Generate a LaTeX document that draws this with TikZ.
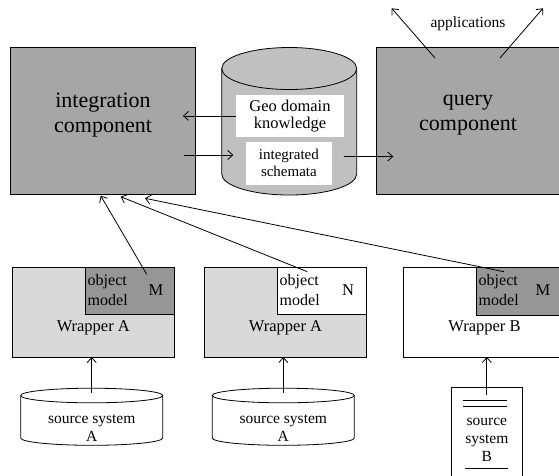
\documentclass[tikz,border=0pt]{standalone}
\usepackage{fontspec}
\setmainfont{Liberation Serif}
\usetikzlibrary{arrows.meta,calc}

\definecolor{compgray}{RGB}{166,166,166}
\definecolor{cylgray}{RGB}{192,192,192}
\definecolor{wrapgray}{RGB}{217,217,217}
\definecolor{objgray}{RGB}{150,150,150}

\tikzset{
  box/.style={draw, line width=0.8pt, inner sep=0pt, outer sep=0pt, anchor=north west},
  whitebox/.style={fill=white, inner sep=0pt, outer sep=0pt},
  arr/.style={line width=0.8pt, -{Straight Barb[length=5pt,width=9pt]}},
  ln/.style={line width=0.8pt},
  bigtxt/.style={font=\fontsize{22}{25}\selectfont, align=center},
  midtxt/.style={font=\fontsize{16.5}{17}\selectfont, align=center},
  smalltxt/.style={font=\fontsize{15}{17}\selectfont, align=center},
  objtxt/.style={font=\fontsize{16}{20}\selectfont, align=left, anchor=west, inner sep=0pt},
  srctxt/.style={font=\fontsize{15.5}{18}\selectfont, align=center},
}

\begin{document}
\begin{tikzpicture}[x=1pt, y=-1pt]
\useasboundingbox (0,0) rectangle (559,475);
\clip (0,0) rectangle (559,475);

% ---------- upper layer ----------
\node[box, fill=compgray, minimum width=184.3pt, minimum height=147pt] (integ) at (10.7,47) {};
\node[bigtxt] (integlbl) at (103,115.5) {integration\\component};

\node[box, fill=compgray, minimum width=190pt, minimum height=147pt] (query) at (376,47) {};
\node[bigtxt] (querylbl) at (468,115.5) {query\\component};

% repository cylinder
\path[draw, ln, fill=cylgray]
  (221.7,68.5) -- (221.7,174)
  arc[start angle=180, end angle=360, x radius=67.5pt, y radius=21pt]
  -- (356.7,68.5)
  arc[start angle=0, end angle=180, x radius=67.5pt, y radius=21pt] -- cycle;
\draw[ln] (221.7,68.5) arc[start angle=180, end angle=360, x radius=67.5pt, y radius=21pt];

\node[whitebox, minimum width=108pt, minimum height=41.7pt] (geo) at (290,115.9) {};
\node[midtxt] (geolbl) at (290,115.9) {Geo domain\\knowledge};
\node[whitebox, minimum width=85.7pt, minimum height=43.3pt] (schem) at (288.9,163.3) {};
\node[smalltxt] (schemlbl) at (288.9,163.3) {integrated\\schemata};

\coordinate (geoTip) at (183,115.9);
\coordinate (intOut) at (184,155);
\coordinate (schIn) at (233.3,155);
\coordinate (schOut) at (343.5,156.5);
\coordinate (qryIn) at (393.3,156.5);

\draw[arr] (geo.west) -- (geoTip);
\draw[arr] (intOut) -- (schIn);
\draw[arr] (schOut) -- (qryIn);

% applications
\coordinate (appL0) at (435,58);
\coordinate (appL1) at (391.7,8.3);
\coordinate (appR0) at (500,58);
\coordinate (appR1) at (543,8.3);
\draw[arr] (appL0) -- (appL1);
\draw[arr] (appR0) -- (appR1);
\node[font=\fontsize{15.5}{18}\selectfont] (applbl) at (468,24) {applications};

% ---------- wrappers ----------
\node[box, fill=wrapgray, minimum width=162pt, minimum height=89.5pt] (w1) at (12.3,267.5) {};
\node[box, fill=objgray, minimum width=88.6pt, minimum height=46.8pt] (om1) at (85.7,267.5) {};
\node[objtxt] (om1lbl) at (87.5,290) {object\\model};
\node[midtxt] (om1tag) at (156,290) {M};
\node[midtxt] (w1lbl) at (93.3,328) {Wrapper A};

\node[box, fill=wrapgray, minimum width=162.4pt, minimum height=89.5pt] (w2) at (204.3,267.5) {};
\node[box, fill=white, minimum width=89pt, minimum height=46.8pt] (om2) at (277.7,267.5) {};
\node[objtxt] (om2lbl) at (279.5,290) {object\\model};
\node[midtxt] (om2tag) at (348,290) {N};
\node[midtxt] (w2lbl) at (285.5,328) {Wrapper A};

\node[box, fill=white, minimum width=160pt, minimum height=89.5pt] (w3) at (403.3,267.5) {};
\node[box, fill=objgray, minimum width=86.3pt, minimum height=47.5pt] (om3) at (476.7,267.5) {};
\node[objtxt] (om3lbl) at (478.5,290) {object\\model};
\node[midtxt] (om3tag) at (543,290) {M};
\node[midtxt] (w3lbl) at (484.5,328) {Wrapper B};

% object models feed the integration component
\coordinate (om1src) at (146.7,274.3);
\coordinate (om2src) at (307.3,271.7);
\coordinate (om3src) at (504,271.7);
\coordinate (tip1) at (100.7,195.7);
\coordinate (tip2) at (120.7,196.7);
\coordinate (tip3) at (145,198.3);
\draw[arr] (om1src) -- (tip1);
\draw[arr] (om2src) -- (tip2);
\draw[arr] (om3src) -- (tip3);

% ---------- sources ----------
\foreach \cx/\nm in {91.7/src1, 283.3/src2}{
  \path[draw, ln, fill=white]
    (\cx-71,395.5) -- (\cx-71,438)
    arc[start angle=180, end angle=360, x radius=71pt, y radius=7.3pt]
    -- (\cx+71,395.5)
    arc[start angle=0, end angle=180, x radius=71pt, y radius=7.3pt] -- cycle;
  \draw[ln] (\cx-71,395.5) arc[start angle=180, end angle=360, x radius=71pt, y radius=7.3pt];
  \coordinate (\nm) at (\cx,393.3);
  \node[srctxt] at (\cx,428) {source system\\A};
}

\draw[arr] (src1) -- (src1 |- w1.south);
\draw[arr] (src2) -- (src2 |- w2.south);

% document-style source
\node[box, fill=white, minimum width=71.7pt, minimum height=100pt] (doc) at (451,387.3) {};
\draw[ln] (463.3,400) -- (506.7,400);
\draw[ln] (463.3,406) -- (506.7,406);
\draw[ln] (465,468.3) -- (508.3,468.3);
\node[srctxt] (doclbl) at (486.8,440) {source\\system\\B};
\coordinate (docTop) at (486.8,395);
\draw[arr] (docTop) -- (docTop |- w3.south);

\end{tikzpicture}
\end{document}
